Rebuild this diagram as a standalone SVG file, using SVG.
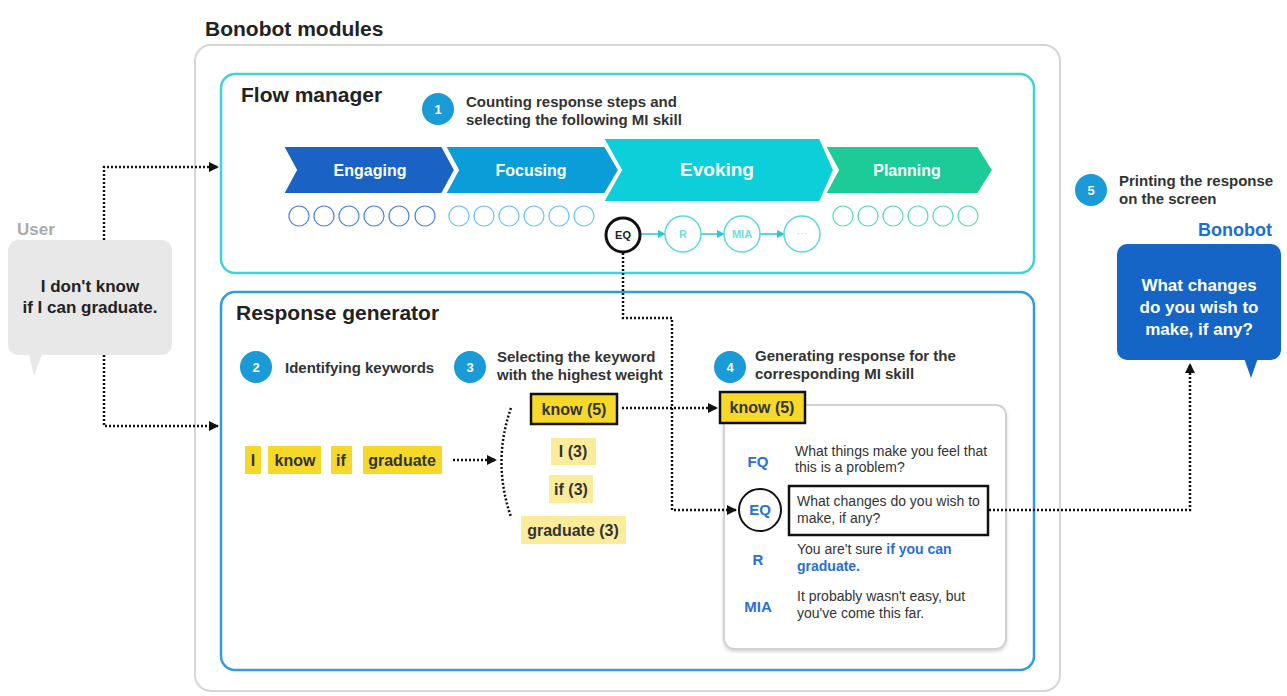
<svg xmlns="http://www.w3.org/2000/svg" width="1287" height="696" viewBox="0 0 1287 696">
<defs>
<marker id="ah" markerWidth="10" markerHeight="10" refX="9" refY="5" orient="auto" markerUnits="userSpaceOnUse">
<path d="M0,0 L10,5 L0,10 Z" fill="#111"/>
</marker>
<marker id="ahs" markerWidth="8" markerHeight="8" refX="7" refY="4" orient="auto" markerUnits="userSpaceOnUse">
<path d="M0,0 L8,4 L0,8 Z" fill="#2cc6d6"/>
</marker>
<filter id="sh" x="-5%" y="-5%" width="110%" height="110%">
<feDropShadow dx="0" dy="2" stdDeviation="1.5" flood-color="#000" flood-opacity="0.15"/>
</filter>
</defs>
<style>
text{font-family:"Liberation Sans",Arial,sans-serif;}
.title{font-size:21px;font-weight:bold;fill:#222;}
.step{font-size:15px;font-weight:bold;fill:#333;}
.num{font-size:13px;font-weight:bold;fill:#fff;text-anchor:middle;}
.numc{fill:#1a9ad6;}
.chev{stroke:#fff;stroke-width:2;}
.chl{font-size:16px;font-weight:bold;fill:#fff;text-anchor:middle;}
.dot{fill:none;stroke:#111;stroke-width:2.5;stroke-dasharray:2 2;}
.kw{fill:#f6d82a;}
.kwp{fill:#fbec9c;}
.kt{font-size:16px;font-weight:bold;fill:#333;text-anchor:middle;}
.sel{stroke:#111;stroke-width:2.5;}
.skill{font-size:15px;font-weight:bold;fill:#2a6fd6;text-anchor:middle;}
.resp{font-size:14px;fill:#333;}
.blue{fill:#2a6fd6;font-weight:bold;}
.sc{fill:#fff;stroke-width:1.2;}
</style>

<g id="bonobot-modules">
<rect x="195" y="45" width="865" height="646" rx="16" fill="none" stroke="#d6d6d6" stroke-width="2"/>
<text x="205" y="36" class="title">Bonobot modules</text>
</g>

<g id="flow-manager">
<rect x="221" y="74" width="813" height="199" rx="14" fill="#fff" stroke="#3fd2dc" stroke-width="2.5"/>
<text x="241" y="102" class="title">Flow manager</text>
</g>

<g id="step1">
<circle cx="438" cy="109" r="16" class="numc"/>
<text x="438" y="114" class="num">1</text>
<text x="466" y="107" class="step">Counting response steps and</text>
<text x="466" y="125" class="step">selecting the following MI skill</text>
</g>

<g id="engaging">
<path d="M283,146 L442,146 L455,170 L442,194 L283,194 L296,170 Z" fill="#1a63c4" class="chev"/>
<text x="370" y="176" class="chl">Engaging</text>
<g stroke="#4a82da" class="sc">
<circle cx="299" cy="216" r="10"/><circle cx="324" cy="216" r="10"/><circle cx="349" cy="216" r="10"/><circle cx="374" cy="216" r="10"/><circle cx="399" cy="216" r="10"/><circle cx="425" cy="216" r="10"/>
</g>
</g>

<g id="focusing">
<path d="M445,146 L605,146 L619,170 L605,194 L445,194 L458,170 Z" fill="#0b9dd8" class="chev"/>
<text x="531" y="176" class="chl">Focusing</text>
<g stroke="#6cc2ea" class="sc">
<circle cx="459" cy="216" r="10"/><circle cx="484" cy="216" r="10"/><circle cx="509" cy="216" r="10"/><circle cx="534" cy="216" r="10"/><circle cx="559" cy="216" r="10"/><circle cx="584" cy="216" r="10"/>
</g>
</g>

<g id="evoking">
<path d="M603,138 L820,138 L834,170 L820,202 L603,202 L621,170 Z" fill="#0ccfda" class="chev"/>
<text x="717" y="176" class="chl" style="font-size:19px">Evoking</text>
<g stroke="#2cc6d6" stroke-width="1.5" fill="none">
<line x1="640" y1="234" x2="665" y2="234" marker-end="url(#ahs)"/>
<line x1="701" y1="234" x2="724" y2="234" marker-end="url(#ahs)"/>
<line x1="760" y1="234" x2="784" y2="234" marker-end="url(#ahs)"/>
</g>
<circle cx="683" cy="234" r="18" fill="#fff" stroke="#5fd6df" stroke-width="1.5"/>
<circle cx="742" cy="234" r="18" fill="#fff" stroke="#5fd6df" stroke-width="1.5"/>
<circle cx="802" cy="234" r="18" fill="#fff" stroke="#5fd6df" stroke-width="1.5"/>
<text x="683" y="238" style="font-size:11px;font-weight:bold;fill:#6fdbe3;text-anchor:middle">R</text>
<text x="742" y="238" style="font-size:11px;font-weight:bold;fill:#6fdbe3;text-anchor:middle">MIA</text>
<text x="802" y="237" style="font-size:11px;fill:#8fe3ea;text-anchor:middle">···</text>
<circle cx="623" cy="235" r="17" fill="#fff" stroke="#111" stroke-width="3"/>
<text x="623" y="239" style="font-size:11px;font-weight:bold;fill:#222;text-anchor:middle">EQ</text>
</g>

<g id="planning">
<path d="M825,146 L978,146 L993,170 L978,194 L825,194 L838,170 Z" fill="#1dcb98" class="chev"/>
<text x="907" y="176" class="chl">Planning</text>
<g stroke="#5ad8b2" class="sc">
<circle cx="843" cy="216" r="10"/><circle cx="868" cy="216" r="10"/><circle cx="893" cy="216" r="10"/><circle cx="918" cy="216" r="10"/><circle cx="943" cy="216" r="10"/><circle cx="968" cy="216" r="10"/>
</g>
</g>

<g id="response-generator">
<rect x="221" y="292" width="813" height="378" rx="14" fill="none" stroke="#2f9be0" stroke-width="2.5"/>
<text x="236" y="320" class="title">Response generator</text>
</g>

<g id="step2">
<circle cx="256" cy="367" r="16" class="numc"/>
<text x="256" y="372" class="num">2</text>
<text x="285" y="373" class="step">Identifying keywords</text>
</g>

<g id="step3">
<circle cx="470" cy="367" r="16" class="numc"/>
<text x="470" y="372" class="num">3</text>
<text x="497" y="362" class="step">Selecting the keyword</text>
<text x="497" y="380" class="step">with the highest weight</text>
</g>

<g id="step4">
<circle cx="730" cy="367" r="16" class="numc"/>
<text x="730" y="372" class="num">4</text>
<text x="755" y="361" class="step">Generating response for the</text>
<text x="755" y="379" class="step">corresponding MI skill</text>
</g>

<g id="step5">
<circle cx="1091" cy="190" r="16" class="numc"/>
<text x="1091" y="195" class="num">5</text>
<text x="1119" y="186" class="step">Printing the response</text>
<text x="1119" y="204" class="step">on the screen</text>
</g>

<g id="keywords">
<rect x="245" y="446" width="16" height="28" class="kw"/><text x="253" y="466" class="kt">I</text>
<rect x="268" y="446" width="53" height="28" class="kw"/><text x="295" y="466" class="kt">know</text>
<rect x="331" y="446" width="21" height="28" class="kw"/><text x="341" y="466" class="kt">if</text>
<rect x="363" y="446" width="79" height="28" class="kw"/><text x="402" y="466" class="kt">graduate</text>
</g>

<g id="weights">
<rect x="531" y="394" width="86" height="30" class="kw sel"/><text x="574" y="415" class="kt">know (5)</text>
<rect x="551" y="438" width="45" height="27" class="kwp"/><text x="573" y="457" class="kt">I (3)</text>
<rect x="549" y="475" width="44" height="28" class="kwp"/><text x="571" y="495" class="kt">if (3)</text>
<rect x="521" y="516" width="105" height="28" class="kwp"/><text x="573" y="536" class="kt">graduate (3)</text>
</g>

<g id="response-panel">
<rect x="724" y="405" width="282" height="244" rx="10" fill="#fff" stroke="#d2d2d2" stroke-width="2" filter="url(#sh)"/>
<rect x="720" y="392" width="85" height="31" class="kw sel"/><text x="762" y="413" class="kt">know (5)</text>
<text x="758" y="467" class="skill">FQ</text>
<text x="795" y="456" class="resp">What things make you feel that</text>
<text x="795" y="472" class="resp">this is a problem?</text>
<circle cx="760" cy="510" r="21" fill="#fff" stroke="#111" stroke-width="2"/>
<text x="760" y="515" class="skill">EQ</text>
<rect x="789" y="486" width="199" height="49" fill="#fff" stroke="#111" stroke-width="2.5"/>
<text x="797" y="506" class="resp">What changes do you wish to</text>
<text x="797" y="523" class="resp">make, if any?</text>
<text x="758" y="565" class="skill">R</text>
<text x="797" y="554" class="resp">You are't sure <tspan class="blue">if you can</tspan></text>
<text x="797" y="571" class="resp blue">graduate.</text>
<text x="758" y="612" class="skill">MIA</text>
<text x="797" y="601" class="resp">It probably wasn't easy, but</text>
<text x="797" y="618" class="resp">you've come this far.</text>
</g>

<g id="user">
<text x="17" y="235" style="font-size:17px;font-weight:bold;fill:#aaa">User</text>
<rect x="8" y="240" width="164" height="115" rx="10" fill="#e8e8e8"/>
<path d="M29,354 L42,354 L34,376 Z" fill="#e8e8e8"/>
<text x="90" y="292" style="font-size:17px;font-weight:bold;fill:#222;text-anchor:middle">I don't know</text>
<text x="90" y="313" style="font-size:17px;font-weight:bold;fill:#222;text-anchor:middle">if I can graduate.</text>
</g>

<g id="bonobot">
<text x="1272" y="236" style="font-size:18px;font-weight:bold;fill:#1a6fd0;text-anchor:end">Bonobot</text>
<rect x="1117" y="244" width="164" height="116" rx="10" fill="#1565c6"/>
<path d="M1244,358 L1258,358 L1251,378 Z" fill="#1565c6"/>
<text x="1199" y="291" style="font-size:17px;font-weight:bold;fill:#fff;text-anchor:middle">What changes</text>
<text x="1199" y="313" style="font-size:17px;font-weight:bold;fill:#fff;text-anchor:middle">do you wish to</text>
<text x="1199" y="335" style="font-size:17px;font-weight:bold;fill:#fff;text-anchor:middle">make, if any?</text>
</g>

<g id="connectors">
<path d="M104,240 L104,167 L218,167" class="dot" marker-end="url(#ah)"/>
<path d="M104,355 L104,426 L218,426" class="dot" marker-end="url(#ah)"/>
<path d="M453,460 L496,460" class="dot" marker-end="url(#ah)"/>
<path d="M511,408 Q492,462 511,517" class="dot"/>
<path d="M623,253 L623,318 L672,318 L672,510 L736,510" class="dot" marker-end="url(#ah)"/>
<path d="M622,408 L717,408" class="dot" marker-end="url(#ah)"/>
<path d="M989,510 L1190,510 L1190,364" class="dot" marker-end="url(#ah)"/>
</g>
</svg>
